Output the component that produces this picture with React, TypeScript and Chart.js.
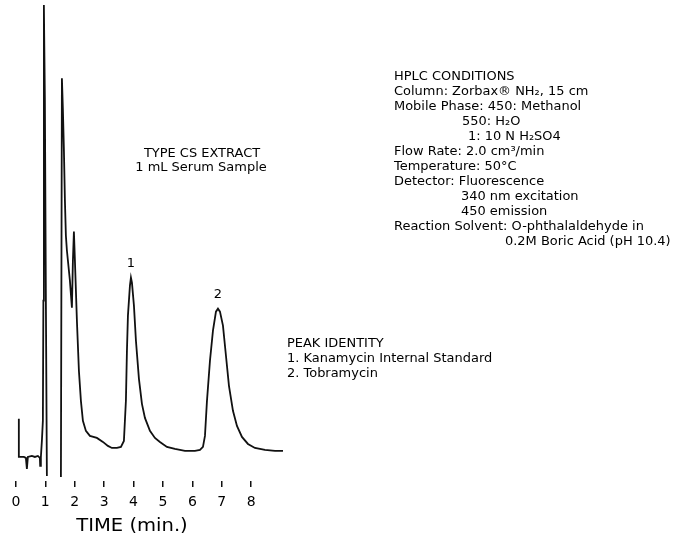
import { useEffect, useRef } from "react";
import { Chart, registerables } from "chart.js";

Chart.register(...registerables);

// ---- data (retention time in minutes, detector signal in arbitrary units; null = pen off-scale) ----
const timeMin = [
  0.1, 0.101, 0.272, 0.34, 0.374, 0.408, 0.544, 0.646, 0.748, 0.816, 0.826, 0.85, 0.884, 0.918, 0.935,
  0.952, 0.986, 1.02, 1.054, 1.3, 1.531, 1.565, 1.599, 1.633, 1.667, 1.7, 1.735, 1.837, 1.905,
  1.939, 1.973, 2.007, 2.075, 2.143, 2.211, 2.279, 2.381, 2.517, 2.755, 2.959, 3.129, 3.265, 3.435,
  3.571, 3.673, 3.741, 3.776, 3.81, 3.878, 3.912, 3.946, 4.014, 4.082, 4.184, 4.286, 4.388, 4.558,
  4.728, 4.898, 5.136, 5.408, 5.748, 6.088, 6.259, 6.361, 6.429, 6.497, 6.599, 6.701, 6.803, 6.871,
  6.939, 7.041, 7.143, 7.245, 7.381, 7.517, 7.687, 7.891, 8.129, 8.469, 8.81, 9.082,
];
const signal = [
  32, -6, -6, -7, -18, -6, -5, -6, -5, -7, -15, -6, 10, 30, 150,
  445, 350, 150, -25, null, -26, 372, 340, 300, 250, 215, 200, 170, 143,
  190, 219, 190, 130, 80, 50, 30, 20, 15, 13, 9, 5, 3, 3,
  4, 10, 50, 100, 135, 165, 173, 168, 145, 110, 72, 47, 33, 20,
  13, 9, 4, 2, 0, 0, 1, 4, 15, 50, 90, 120, 139, 142,
  139, 125, 95, 65, 40, 25, 14, 7, 3, 1, 0, 0,
];
const tickMinutes = [0, 1, 2, 3, 4, 5, 6, 7, 8];
const tickLabels = ["0", "1", "2", "3", "4", "5", "6", "7", "8"];
const axisTitle = "TIME (min.)";
const peakNumbers = ["1", "2"];
const peakTimes = [3.912, 6.871];
const peakSignals = [173, 142];
const sampleLines = ["TYPE CS EXTRACT", "1 mL Serum Sample"];
const conditionLines = [
  "HPLC CONDITIONS",
  "Column: Zorbax® NH₂, 15 cm",
  "Mobile Phase: 450: Methanol",
  "550: H₂O",
  "1: 10 N H₂SO4",
  "Flow Rate: 2.0 cm³/min",
  "Temperature: 50°C",
  "Detector: Fluorescence",
  "340 nm excitation",
  "450 emission",
  "Reaction Solvent: O-phthalaldehyde in",
  "0.2M Boric Acid (pH 10.4)",
];
const identityLines = ["PEAK IDENTITY", "1. Kanamycin Internal Standard", "2. Tobramycin"];

// ---- layout (positions / sizes of the annotation text) ----
const FONT = '"DejaVu Sans", sans-serif';
const INK = "#000";
const TEXT_STRETCH = 1.08;
const conditionLayout = [
  { x: 394, y: 77 },
  { x: 394, y: 92 },
  { x: 394, y: 107 },
  { x: 462, y: 122 },
  { x: 468, y: 137 },
  { x: 394, y: 152 },
  { x: 394, y: 167 },
  { x: 394, y: 182 },
  { x: 461, y: 197 },
  { x: 461, y: 212 },
  { x: 394, y: 227 },
  { x: 505, y: 242 },
];
const identityLayout = [
  { x: 287, y: 344 },
  { x: 287, y: 359 },
  { x: 287, y: 374 },
];
const sampleLayout = [
  { x: 202, y: 154 },
  { x: 201, y: 168 },
];

function drawText(
  ctx: CanvasRenderingContext2D,
  text: string,
  x: number,
  y: number,
  size: number,
  sx: number,
  align: CanvasTextAlign
) {
  ctx.save();
  ctx.font = `${size}px ${FONT}`;
  ctx.translate(x, y);
  ctx.scale(sx, 1);
  ctx.textAlign = align;
  ctx.textBaseline = "middle";
  ctx.fillStyle = INK;
  ctx.fillText(text, 0, 0);
  ctx.restore();
}

const annotationPlugin = {
  id: "annotations",
  afterDraw(chart: any) {
    const ctx = chart.ctx as CanvasRenderingContext2D;
    const xs = chart.scales.x;
    const ys = chart.scales.y;
    conditionLines.forEach((t, i) => {
      const l = conditionLayout[i];
      drawText(ctx, t, l.x, l.y, 12, TEXT_STRETCH, "left");
    });
    identityLines.forEach((t, i) => {
      const l = identityLayout[i];
      drawText(ctx, t, l.x, l.y, 12, TEXT_STRETCH, "left");
    });
    sampleLines.forEach((t, i) => {
      const l = sampleLayout[i];
      drawText(ctx, t, l.x, l.y, 12, TEXT_STRETCH, "center");
    });
    peakNumbers.forEach((t, i) => {
      const px = xs.getPixelForValue(peakTimes[i]);
      const py = ys.getPixelForValue(peakSignals[i]) - 14;
      drawText(ctx, t, px, py, 12, TEXT_STRETCH, "center");
    });
    drawText(ctx, axisTitle, 132, 527, 17, 1.15, "center");
  },
};

export default function App() {
  const ref = useRef<HTMLCanvasElement | null>(null);
  useEffect(() => {
    if (!ref.current) return;
    const points = timeMin.map((t, i) => ({ x: t, y: signal[i] }));
    const chart = new Chart(ref.current, {
      type: "line",
      data: {
        datasets: [
          {
            data: points as any,
            borderColor: "#111",
            borderWidth: 1.8,
            pointRadius: 0,
            tension: 0,
            fill: false,
            spanGaps: false,
          },
        ],
      },
      options: {
        animation: false,
        responsive: true,
        maintainAspectRatio: false,
        events: [],
        layout: { padding: { left: 10, right: 395.6, top: 0, bottom: 20.2 } },
        plugins: { legend: { display: false }, tooltip: { enabled: false } },
        scales: {
          x: {
            type: "linear",
            min: -0.2,
            max: 9.3,
            afterBuildTicks: (s: any) => {
              s.ticks = tickMinutes.map((v) => ({ value: v }));
            },
            border: { display: false },
            grid: {
              drawOnChartArea: false,
              drawTicks: true,
              tickLength: 6,
              color: "#111",
              lineWidth: 1.5,
            },
            ticks: {
              color: INK,
              font: { family: FONT, size: 14 },
              padding: 7,
              maxRotation: 0,
              autoSkip: false,
              callback: (_v: any, i: number) => tickLabels[i],
            },
          },
          y: { type: "linear", display: false, min: -30, max: 450 },
        },
      },
      plugins: [annotationPlugin],
    });
    return () => chart.destroy();
  }, []);
  return (
    <div style={{ position: "fixed", left: 0, top: 0, width: 685, height: 538, background: "#fff" }}>
      <canvas ref={ref} />
    </div>
  );
}
